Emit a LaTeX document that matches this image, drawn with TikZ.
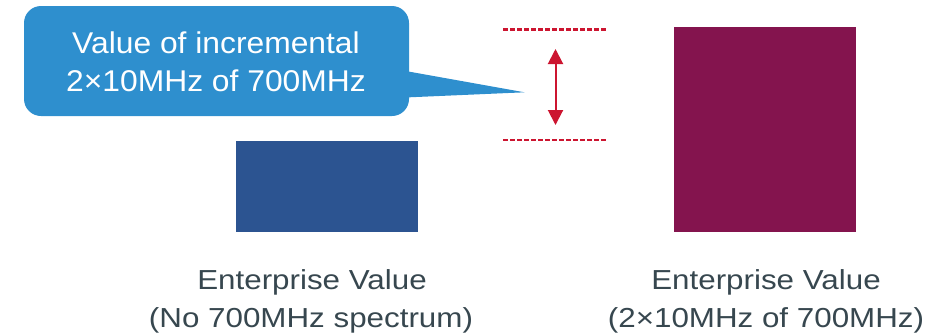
\documentclass[tikz,border=0pt]{standalone}
\usepackage{fontspec}
\setmainfont{Liberation Sans}
\newfontfamily\calloutfont[FakeStretch=1.06]{Liberation Sans}
\newfontfamily\labelfont[FakeStretch=1.14]{Liberation Sans}
\usetikzlibrary{arrows.meta}

\definecolor{calloutblue}{HTML}{2E8FCE}
\definecolor{barblue}{HTML}{2C5491}
\definecolor{barpurple}{HTML}{84144E}
\definecolor{markred}{HTML}{CC1530}
\definecolor{labelgrey}{HTML}{37474F}

\tikzset{
  calloutline/.style={text=white, anchor=base, inner sep=0pt,
    font=\calloutfont\fontsize{30}{38}\selectfont},
  caption/.style={text=labelgrey, anchor=base, inner sep=0pt,
    font=\labelfont\fontsize{27.5}{38}\selectfont},
  levelline/.style={draw=markred, line width=2.2pt, dash pattern=on 5pt off 2pt},
  gaparrow/.style={draw=markred, line width=2pt,
    {Triangle[width=15pt,length=15pt]}-{Triangle[width=15pt,length=15pt]}},
}

\begin{document}
\begin{tikzpicture}[x=1pt,y=-1pt]
  \useasboundingbox (0,0) rectangle (945,333);

  % callout bubble: rounded box plus pointer
  \fill[calloutblue, rounded corners=17pt] (24,6) rectangle (409,116);
  \fill[calloutblue] (400,70) -- (524.5,92.3) -- (400,97.7) -- cycle;
  \node[calloutline] (c1) at (216,53.3) {Value of incremental};
  \node[calloutline] (c2) at (216,91.7) {2×10MHz of 700MHz};

  % bars
  \fill[barblue] (236,141) rectangle (417.5,231.5);
  \fill[barpurple] (674,27) rectangle (856,231.5);

  % dashed level markers and the gap arrow between them
  \coordinate (l1a) at (503,29.5);
  \coordinate (l1b) at (607,29.5);
  \coordinate (l2a) at (503,140.3);
  \coordinate (l2b) at (607,140.3);
  \path[levelline] (l1a) -- (l1b);
  \path[levelline] (l2a) -- (l2b);
  \coordinate (atop) at (555.5,49);
  \coordinate (abot) at (555.5,125);
  \path[gaparrow] (atop) -- (abot);

  % captions
  \node[caption] (e1) at (312,289.7) {Enterprise Value};
  \node[caption] (e2) at (311,327) {(No 700MHz spectrum)};
  \node[caption] (f1) at (766,289.7) {Enterprise Value};
  \node[caption] (f2) at (766,327) {(2×10MHz of 700MHz)};
\end{tikzpicture}
\end{document}
